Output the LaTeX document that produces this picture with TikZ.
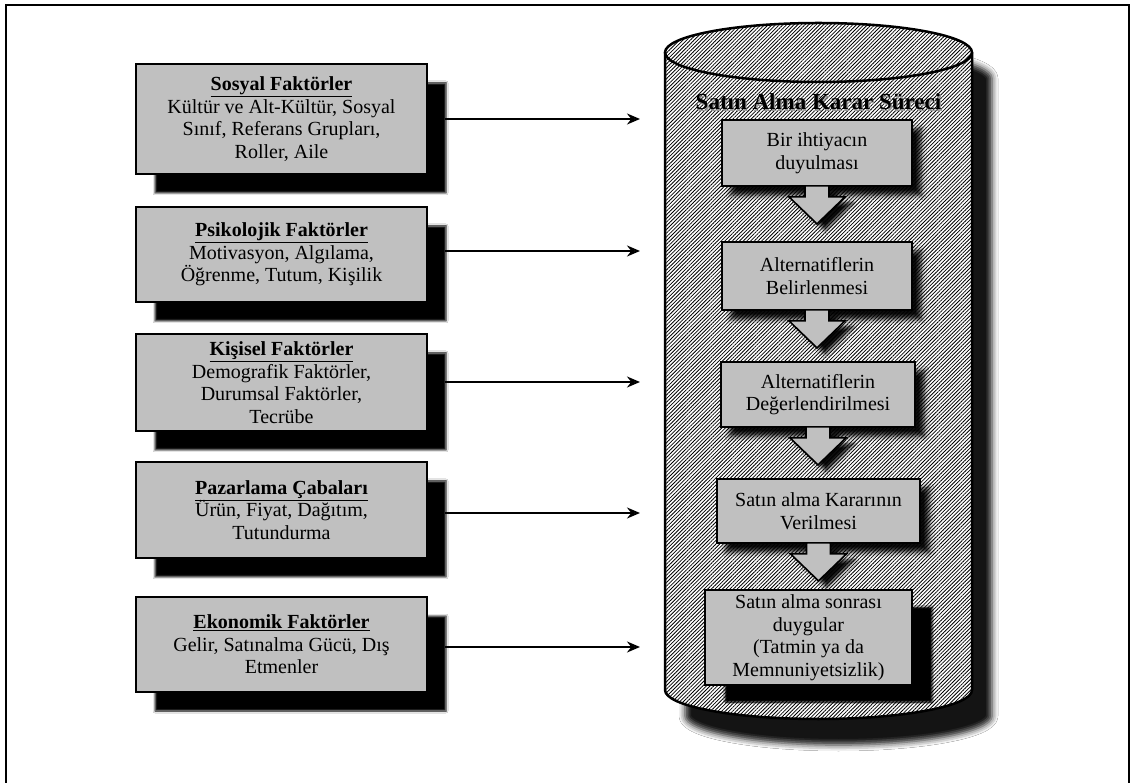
\documentclass[tikz,border=0pt]{standalone}
\usepackage{fontspec}
\setmainfont{Liberation Serif}
\usetikzlibrary{shadows.blur,patterns.meta,arrows.meta}

\definecolor{boxgray}{RGB}{192,192,192}

\tikzset{
  bodytext/.style={font=\fontsize{20}{22.5}\selectfont},
  factor/.style={bodytext, draw=black, line width=2.2pt, fill=boxgray,
    minimum width=291pt, align=center, inner sep=2pt,
    blur shadow={shadow xshift=19pt, shadow yshift=-19pt,
      shadow blur radius=2pt, shadow opacity=100}},
  stage/.style={bodytext, draw=black, line width=1.8pt, fill=boxgray,
    align=center, inner sep=2pt,
    blur shadow={shadow xshift=9pt, shadow yshift=-9pt,
      shadow blur radius=5pt, shadow opacity=95}},
  laststage/.style={bodytext, draw=black, line width=1.8pt, fill=boxgray,
    align=center, inner sep=2pt,
    blur shadow={shadow xshift=20pt, shadow yshift=-17pt,
      shadow blur radius=1.5pt, shadow opacity=100}},
  flowarrow/.style={draw=black, line width=1.6pt, fill=boxgray, line join=miter,
    blur shadow={shadow xshift=8pt, shadow yshift=-6pt,
      shadow blur radius=4pt, shadow opacity=95}},
  link/.style={line width=2pt, shorten <=17pt,
    -{Stealth[length=13pt,width=11pt]}},
  hatch/.style={pattern={Lines[angle=45,distance=2.6pt,line width=0.8pt]},
    pattern color=black},
}

% outline of the cylinder body, used for shadow, fill and hatching
\newcommand{\cylbody}{(665,729.5) -- (665,92)
  arc[start angle=180, end angle=360, x radius=153.5, y radius=29]
  -- (972,729.5)
  arc[start angle=0, end angle=180, x radius=153.5, y radius=29.5] -- cycle}

% down-pointing block arrow hanging from the bottom of a stage box
\newcommand{\stagearrow}[1]{%
  \draw[flowarrow] (#1.south) ++(-12,1) -- ++(0,-11) -- ++(-16,0) -- ++(28,-27)
    -- ++(28,27) -- ++(-16,0) -- ++(0,11) -- cycle;}

\begin{document}
\begin{tikzpicture}[x=1pt,y=1pt]
\useasboundingbox (0,0) rectangle (1134,782);
\fill[white] (0,0) rectangle (1134,782);

% outer frame
\draw[line width=2.5pt] (6,-10) -- (6,777) -- (1129,777) -- (1129,-10);

% cylinder holding the decision process
\path[blur shadow={shadow xshift=20pt, shadow yshift=-26pt,
      shadow blur radius=6pt, shadow opacity=92}] \cylbody;
\fill[white] \cylbody;
\path[hatch] \cylbody;
\draw[line width=2.5pt]
  (665,729.5) -- (665,92)
  arc[start angle=180, end angle=360, x radius=153.5, y radius=29]
  -- (972,729.5);
\draw[line width=2.5pt] (818.5,729.5) ellipse [x radius=153.5, y radius=29.5];

% cylinder title
\node[font=\fontsize{23}{26}\selectfont\bfseries, text=gray!80] (titleshade)
  at (819.8,678.7) {Satın Alma Karar Süreci};
\node[font=\fontsize{23}{26}\selectfont\bfseries] (title)
  at (818.5,680) {Satın Alma Karar Süreci};

% factors on the left
\node[factor, minimum height=110pt] (f1) at (281.5,663)
  {\underline{\textbf{Sosyal Faktörler}}\\Kültür ve Alt-Kültür, Sosyal\\Sınıf, Referans Grupları,\\Roller, Aile};
\node[factor, minimum height=95pt] (f2) at (281.5,527.5)
  {\underline{\textbf{Psikolojik Faktörler}}\\Motivasyon, Algılama,\\Öğrenme, Tutum, Kişilik};
\node[factor, minimum height=97pt] (f3) at (281.5,399.5)
  {\underline{\textbf{Kişisel Faktörler}}\\Demografik Faktörler,\\Durumsal Faktörler,\\Tecrübe};
\node[factor, minimum height=96pt] (f4) at (281.5,272)
  {\underline{\textbf{Pazarlama Çabaları}}\\Ürün, Fiyat, Dağıtım,\\Tutundurma};
\node[factor, minimum height=95pt] (f5) at (281.5,137.5)
  {\underline{\textbf{Ekonomik Faktörler}}\\Gelir, Satınalma Gücü, Dış\\Etmenler};

% arrow ends in front of the cylinder
\coordinate (e1) at (640,663);
\coordinate (e2) at (640,531);
\coordinate (e3) at (640,400);
\coordinate (e4) at (640,269);
\coordinate (e5) at (640,135);
\draw[link] (f1.east) -- (e1);
\draw[link] (f2.east |- e2) -- (e2);
\draw[link] (f3.east |- e3) -- (e3);
\draw[link] (f4.east |- e4) -- (e4);
\draw[link] (f5.east |- e5) -- (e5);

% stages of the decision process
\node[stage, minimum width=190pt, minimum height=66pt] (s1) at (817,629)
  {Bir ihtiyacın\\duyulması};
\stagearrow{s1}
\node[stage, minimum width=190pt, minimum height=68pt] (s2) at (817,506)
  {Alternatiflerin\\Belirlenmesi};
\stagearrow{s2}
\node[stage, minimum width=194pt, minimum height=65pt] (s3) at (818,387.5)
  {Alternatiflerin\\Değerlendirilmesi};
\stagearrow{s3}
\node[stage, minimum width=203pt, minimum height=64pt] (s4) at (818.5,271)
  {Satın alma Kararının\\Verilmesi};
\stagearrow{s4}
\node[laststage, minimum width=207pt, minimum height=95pt] (s5) at (808.5,144.5)
  {Satın alma sonrası\\duygular\\(Tatmin ya da\\Memnuniyetsizlik)};
\end{tikzpicture}
\end{document}
